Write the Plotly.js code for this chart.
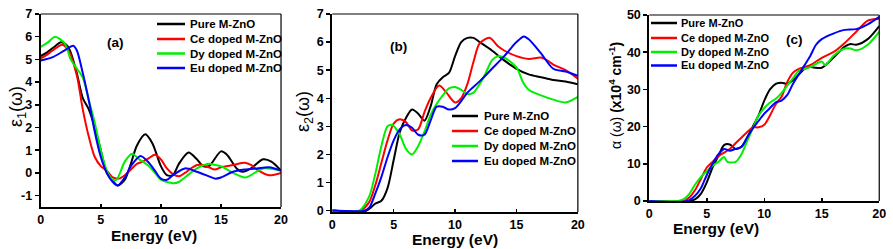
<!DOCTYPE html>
<html>
<head>
<meta charset="utf-8">
<script src="https://cdn.plot.ly/plotly-3.0.1.min.js"></script>
<style>html,body{margin:0;padding:0;background:#fff}#plot{width:893px;height:249px}</style>
</head>
<body>
<div id="plot"></div>
<script>
// ---------------- DATA ----------------
const seriesNames = ["Pure M-ZnO", "Ce doped M-ZnO", "Dy doped M-ZnO", "Eu doped M-ZnO"];
const seriesColors = ["#000000", "#ff0000", "#00ee00", "#0000ff"];

// (a) epsilon_1
const e1_pure_x = [0,0.5,1,1.7,2.2,2.5,3,3.5,4,4.5,5,5.5,6,6.4,7,7.5,8,8.7,9.3,10,10.5,11,11.5,12.3,13,13.5,14,15,15.5,16.3,16.8,17.5,18.5,19.2,20];
const e1_pure_y = [5.15,5.3,5.5,5.75,5.6,5.3,4.4,3.3,2.8,2.0,1.0,0.0,-0.35,-0.55,-0.3,0.4,1.2,1.7,1.3,0.3,-0.1,-0.1,0.4,0.9,0.6,0.3,0.3,0.95,0.8,0.2,0.05,0.2,0.6,0.5,0.1];
const e1_ce_x = [0,0.5,1,1.8,2.3,3,3.5,4,4.5,5,5.5,6,6.5,7,7.5,8,8.5,9,9.5,10,10.5,11,11.5,12,12.5,13,13.5,14,14.5,15,16,17,17.5,18,19,20];
const e1_ce_y = [5.05,5.2,5.4,5.65,5.4,4.3,2.8,1.6,0.7,0.3,0.1,-0.2,-0.25,-0.1,0.15,0.4,0.5,0.65,0.8,0.6,0.2,-0.05,-0.15,0.0,0.2,0.35,0.35,0.25,0.15,0.25,0.35,0.45,0.35,0.15,-0.1,0.0];
const e1_dy_x = [0,0.6,1.2,2,2.5,3,3.5,4,4.5,5,5.5,6,6.3,7,7.6,8.2,8.5,9,9.5,10,11,11.5,12,13,14,14.5,15,16,17,17.5,18.5,20];
const e1_dy_y = [5.55,5.75,6.0,5.7,5.0,4.6,4.2,3.2,2.2,1.0,0.1,-0.3,-0.3,0.5,0.85,0.6,0.5,0.3,0.0,-0.3,-0.45,-0.4,-0.2,0.2,0.4,0.35,0.3,0.0,-0.2,-0.1,0.2,0.1];
const e1_eu_x = [0,1,2,2.7,3,3.5,4,4.5,5,5.5,6,6.4,7,7.5,8.3,9,9.5,10,10.5,11,12,13,14,14.5,15,16,17,18,19,20];
const e1_eu_y = [4.95,5.1,5.4,5.6,5.4,4.4,3.2,1.8,0.7,0.0,-0.4,-0.55,-0.2,0.3,0.75,0.45,0.1,-0.25,-0.3,-0.1,0.2,0.05,-0.15,-0.25,-0.2,0.05,0.15,0.2,0.25,0.1];

// (b) epsilon_2
const e2_pure_x = [0,2.8,3.5,4,4.5,5,5.5,6,6.5,7,7.5,8,8.5,9,9.5,10,10.5,11,11.5,12,13,14,15,16,17,18,19,20];
const e2_pure_y = [0,0,0.25,0.35,0.8,1.8,2.8,3.3,3.6,3.45,3.2,3.7,4.5,4.75,4.9,5.5,6.0,6.15,6.15,6.0,5.7,5.35,5.05,4.85,4.75,4.65,4.6,4.5];
const e2_ce_x = [0,2.3,3,3.5,4,4.5,5,5.5,6,6.5,7,7.5,8,8.7,9.3,10,10.5,11,11.5,12,12.8,13.5,14,15,16,17,17.5,18,19,20];
const e2_ce_y = [0,0,0.3,0.9,1.7,2.5,3.1,3.25,3.15,2.85,2.9,3.5,4.0,4.45,4.2,3.85,4.0,4.5,5.3,5.95,6.15,5.85,5.7,5.5,5.4,5.45,5.35,5.2,5.0,4.7];
const e2_dy_x = [0,2.2,3,3.5,4,4.5,4.9,5.5,6,6.5,7,7.5,8,8.5,9,9.5,10,10.5,11,11.5,12,12.5,13,13.5,14,15,15.5,16,17,18,19,20];
const e2_dy_y = [0,0,0.5,1.3,2.3,3.0,3.05,2.7,2.2,2.0,2.3,2.8,3.4,3.8,4.1,4.35,4.4,4.3,4.15,4.2,4.5,4.9,5.35,5.5,5.45,5.1,4.6,4.3,4.1,3.95,3.85,4.05];
const e2_eu_x = [0,2.6,3,3.5,4,4.5,5,5.5,6,6.5,7,7.5,8,8.5,9,9.5,10,10.5,11,12,13,14,15,15.6,16,17,18,19,20];
const e2_eu_y = [0,0,0.1,0.6,1.2,1.9,2.5,2.9,3.05,2.95,2.7,2.7,3.2,3.7,3.7,3.6,3.65,3.9,4.2,4.6,5.05,5.5,6.0,6.2,6.1,5.6,5.05,4.95,4.8];

// (c) absorption coefficient
const a_pure_x = [0,3.5,4,4.5,5,5.5,6,6.5,7,7.5,8,8.5,9,9.5,10,10.5,11,11.5,12,12.5,13,13.5,14,14.5,15,15.5,16,17,17.5,18,19,20];
const a_pure_y = [0,0,0.5,2,5,9,12,15,15.2,14,14.5,17,20,23,27,30,31.5,31.8,31.5,32.5,34,35.5,36,35.8,35.8,37,38.5,41.5,42.2,42,43.5,47];
const a_ce_x = [0,3,3.5,4,4.5,5,5.5,6,6.5,7,7.5,8,8.5,9,9.5,10,10.5,11,11.5,12,12.5,13,14,15,16,17,18,19,20];
const a_ce_y = [0,0,1,3,6,9,10.5,12,13,14,15.5,17,18.5,19.8,19.8,20.5,23,26,28,32,34.5,35.5,36.5,38.5,40,42.5,45.5,48.5,49];
const a_dy_x = [0,2.5,3,3.5,4,4.5,5,5.5,6,6.5,6.8,7.5,8,8.5,9,9.5,10,10.5,11,11.5,12,12.5,13,14,15,15.3,16,17,17.5,18,19,20];
const a_dy_y = [0,0,0.5,2,4.5,6.5,8,9.5,10.5,11.8,10.5,10.5,12.5,16,19.5,23,25,26.5,27.5,29,31,33,35,36,37.5,36.5,39,41,41,40.5,42,45.5];
const a_eu_x = [0,3.3,4,4.5,5,5.5,6,6.5,7,7.5,8,8.5,9,9.5,10,10.5,11,11.5,12,12.5,13,13.5,14,14.5,15,16,17,18,19,20];
const a_eu_y = [0,0,1.5,3.5,7,10,12.5,14,13.5,14,14.5,17,19.5,21.5,23.5,25,26.5,27,28.5,31.5,34,36.5,39,42,43.5,45,46,46.2,47.5,49.5];

const xTicks = [0,5,10,15,20];
const aTicks = [-1,0,1,2,3,4,5,6,7];
const bTicks = [0,1,2,3,4,5,6,7];
const cTicks = [0,10,20,30,40,50];

// ---------------- PLOT ----------------
const FONT = "Arial, 'Liberation Sans', sans-serif";
const W = 893, H = 249;
const panels = [
  {xs:[e1_pure_x,e1_ce_x,e1_dy_x,e1_eu_x], ys:[e1_pure_y,e1_ce_y,e1_dy_y,e1_eu_y], xa:'x', ya:'y',
   leg:{x0:157, x1:185, tx:188, rows:[24,39,53.5,68], fs:11.5}},
  {xs:[e2_pure_x,e2_ce_x,e2_dy_x,e2_eu_x], ys:[e2_pure_y,e2_ce_y,e2_dy_y,e2_eu_y], xa:'x2', ya:'y2',
   leg:{x0:452, x1:478, tx:482, rows:[116,131,146,161], fs:11.5}},
  {xs:[a_pure_x,a_ce_x,a_dy_x,a_eu_x], ys:[a_pure_y,a_ce_y,a_dy_y,a_eu_y], xa:'x3', ya:'y3',
   leg:{x0:651, x1:677, tx:679, rows:[23,38,52,65.5], fs:11}}
];
const traces = [];
const annotations = [];
const shapes = [];
panels.forEach(p => {
  for (let i = 0; i < 4; i++) {
    traces.push({
      x: p.xs[i], y: p.ys[i], type:'scatter', mode:'lines',
      name: seriesNames[i], xaxis: p.xa, yaxis: p.ya, showlegend:false,
      line: {color: seriesColors[i], width: 2, shape:'spline', smoothing: 0.8}
    });
    const yy = 1 - p.leg.rows[i] / H;
    shapes.push({type:'line', xref:'paper', yref:'paper', x0:p.leg.x0/W, x1:p.leg.x1/W, y0:yy, y1:yy,
      line:{color: seriesColors[i], width: 2.5}});
    annotations.push({text:'<b>' + seriesNames[i] + '</b>', xref:'paper', yref:'paper', x:p.leg.tx/W, y:yy,
      xanchor:'left', yanchor:'middle', showarrow:false, font:{family:FONT, size:p.leg.fs, color:'#000'}});
  }
  shapes.push({type:'line', xref:p.xa+' domain', yref:p.ya+' domain', x0:0, x1:1, y0:1, y1:1, line:{color:'#000', width:1.2}});
  shapes.push({type:'line', xref:p.xa+' domain', yref:p.ya+' domain', x0:1, x1:1, y0:0, y1:1, line:{color:'#000', width:1.2}});
});

function xAxis(domain, anchor) {
  return {domain: domain, anchor: anchor, range:[0,20], tickvals: xTicks, ticktext: xTicks.map(String),
    showline:true, linecolor:'#000', linewidth:2, ticks:'inside', ticklen:3, tickwidth:1.5, tickcolor:'#000',
    showgrid:false, zeroline:false, tickfont:{family:FONT, size:12.5, color:'#000', weight:'bold'}};
}
function yAxis(domain, anchor, range, ticks) {
  return {domain: domain, anchor: anchor, range: range, tickvals: ticks, ticktext: ticks.map(String),
    showline:true, linecolor:'#000', linewidth:2, ticks:'outside', ticklen:4, tickwidth:1.5, tickcolor:'#000',
    showgrid:false, zeroline:false, tickfont:{family:FONT, size:12.5, color:'#000', weight:'bold'}};
}

const axisTitles = [
  {text:'<b>Energy (eV)</b>', x:153.5, y:235, rot:0, fs:15.5},
  {text:'<b>Energy (eV)</b>', x:455, y:239, rot:0, fs:15.5},
  {text:'<b>Energy (eV)</b>', x:715.5, y:228.5, rot:0, fs:15.5},
  {text:'ε<sub>1</sub>(ω)', x:17, y:107, rot:-90, fs:18},
  {text:'ε<sub>2</sub>(ω)', x:304, y:112, rot:-90, fs:18},
  {text:'α (ω) <b>(x10<sup>4</sup> cm<sup>-1</sup>)</b>', x:615, y:96, rot:-90, fs:14}
];
axisTitles.forEach(t => annotations.push({text:t.text, xref:'paper', yref:'paper', x:t.x/W, y:1-t.y/H,
  xanchor:'center', yanchor:'middle', textangle:t.rot, showarrow:false, font:{family:FONT, size:t.fs, color:'#000'}}));

[['(a)',105,33],['(b)',398,37],['(c)',805,30]].forEach(([t,x,y]) => annotations.push({text:'<b>'+t+'</b>',
  xref:'paper', yref:'paper', x:x/W, y:1-y/H, showarrow:false, font:{family:FONT,size:13.5,color:'#000'}}));

const layout = {
  width: W, height: H, margin:{l:0,r:0,t:0,b:0},
  paper_bgcolor:'#fff', plot_bgcolor:'#fff', showlegend:false,
  xaxis: xAxis([0.0456,0.3147],'y'),
  yaxis: yAxis([0.1687,0.9438],'x',[-1.5,7],aTicks),
  xaxis2: xAxis([0.3721,0.6471],'y2'),
  yaxis2: yAxis([0.1486,0.9438],'x2',[-0.05,7],bTicks),
  xaxis3: xAxis([0.7271,0.9846],'y3'),
  yaxis3: yAxis([0.1928,0.9398],'x3',[0,50],cTicks),
  annotations: annotations,
  shapes: shapes
};
Plotly.newPlot('plot', traces, layout, {displayModeBar:false, staticPlot:true});
</script>
</body>
</html>
